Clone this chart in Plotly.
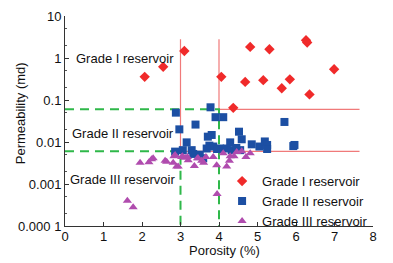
import math
import plotly.graph_objects as go

# Grade I reservoir (red diamonds)
g1_x = [2.07, 2.55, 3.10, 4.06, 4.81, 5.31, 6.26, 6.29, 6.99, 4.68, 5.15, 5.63, 5.84, 6.35, 4.37]
g1_y = [0.356, 0.615, 1.47, 0.356, 1.84, 1.62, 2.65, 2.33, 0.54, 0.27, 0.297, 0.19, 0.31, 0.136, 0.065]

# Grade II reservoir (blue squares)
g2_x = [3.78, 2.88, 3.91, 4.11, 3.39, 2.97, 4.52, 3.81, 3.71, 4.59, 3.16, 4.29, 3.75, 3.85,
        4.85, 5.05, 5.19, 5.25, 5.25, 2.86, 3.06, 3.29, 3.33, 3.68, 4.03, 4.20, 4.33, 4.55,
        3.50, 3.59, 5.70, 5.96, 5.93, 3.95, 4.45]
g2_y = [0.067, 0.050, 0.039, 0.039, 0.026, 0.020, 0.0176, 0.0147, 0.0134, 0.0116, 0.0098, 0.0098,
        0.0082, 0.0078, 0.0088, 0.0078, 0.0103, 0.0085, 0.0068, 0.0059, 0.0064, 0.0064, 0.0052,
        0.0070, 0.0070, 0.0070, 0.0064, 0.0064, 0.0050, 0.0041, 0.030, 0.0085, 0.0080, 0.0068, 0.0072]

# Grade III reservoir (purple triangles)
g3_x = [1.95, 2.18, 2.25, 2.29, 2.60, 2.81, 2.83, 2.90, 3.05, 3.18, 3.36, 3.46, 1.62, 1.77,
        3.03, 3.20, 3.44, 3.60, 3.66, 3.85, 3.95, 4.11, 4.20, 4.27, 4.29, 4.39, 4.46, 4.59,
        4.70, 4.81, 2.86, 2.94, 3.12, 3.55, 3.94, 2.64]
g3_y = [0.0032, 0.0033, 0.0039, 0.0041, 0.0036, 0.0032, 0.0046, 0.0026, 0.0046, 0.0044, 0.0027,
        0.0041, 0.00040, 0.00028, 0.0044, 0.0037, 0.0041, 0.0032, 0.0044, 0.0044, 0.00058, 0.0054,
        0.0026, 0.0036, 0.0046, 0.0046, 0.0058, 0.0060, 0.0044, 0.0054, 0.0049, 0.0026, 0.0042,
        0.0036, 0.0028, 0.0034]

# Boundary lines
red_a_x = [3, 3, 7.65]
red_a_y = [2.8, 0.006, 0.006]
red_b_x = [4, 4, 7.65]
red_b_y = [2.8, 0.06, 0.06]
green_a_x = [0, 4, 4]
green_a_y = [0.06, 0.06, 0.0001]
green_b_x = [0, 3, 3]
green_b_y = [0.006, 0.006, 0.0001]

y_tickvals = [10, 1, 0.1, 0.01, 0.001, 0.0001]
y_ticktext = ["10", "1", "0.1", "0.01", "0.001", "0.000 1"]
x_tickvals = [0, 1, 2, 3, 4, 5, 6, 7, 8]

region_labels = ["Grade I reservoir", "Grade II reservoir", "Grade III reservoir"]
region_label_x = [0.23, 0.13, 0.08]
region_label_y = [1.0, 0.0161, 0.0013]

FONT = "Liberation Sans, Arial, sans-serif"
FS = 13

fig = go.Figure()

for lx, ly in [(red_a_x, red_a_y), (red_b_x, red_b_y)]:
    fig.add_trace(go.Scatter(x=lx, y=ly, mode="lines", showlegend=False, hoverinfo="skip",
                             line=dict(color="#f07a7a", width=1.2)))
for lx, ly in [(green_a_x, green_a_y), (green_b_x, green_b_y)]:
    fig.add_trace(go.Scatter(x=lx, y=ly, mode="lines", showlegend=False, hoverinfo="skip",
                             line=dict(color="#2fb84a", width=2, dash="9px,6px")))

fig.add_trace(go.Scatter(x=g1_x, y=g1_y, mode="markers", name="Grade I reservoir",
                         marker=dict(symbol="diamond", size=8, color="#f02a2a")))
fig.add_trace(go.Scatter(x=g2_x, y=g2_y, mode="markers", name="Grade II reservoir",
                         marker=dict(symbol="square", size=8, color="#1c4fa3")))
fig.add_trace(go.Scatter(x=g3_x, y=g3_y, mode="markers", name="Grade III reservoir",
                         marker=dict(symbol="triangle-up", size=8, color="#b04cae")))

for text, xx, yy in zip(region_labels, region_label_x, region_label_y):
    fig.add_annotation(x=xx, y=math.log10(yy), xref="x", yref="y", text=text,
                       showarrow=False, xanchor="left", yanchor="middle",
                       font=dict(family=FONT, size=FS, color="#111"))

# axis titles
fig.add_annotation(x=-0.146, y=0.537, xref="paper", yref="paper", text="Permeability (md)",
                   textangle=-90, showarrow=False, xanchor="center", yanchor="middle",
                   font=dict(family=FONT, size=FS, color="#111"))
fig.add_annotation(x=0.518, y=-0.118, xref="paper", yref="paper", text="Porosity (%)",
                   showarrow=False, xanchor="center", yanchor="middle",
                   font=dict(family=FONT, size=FS, color="#111"))

# the page body adds an 8px offset, so margins compensate
fig.update_layout(
    width=393, height=263,
    margin=dict(l=57, r=28, t=8, b=45),
    paper_bgcolor="white", plot_bgcolor="white",
    font=dict(family=FONT, size=FS, color="#111"),
    legend=dict(x=0.51, y=0.285, xanchor="left", yanchor="top", bgcolor="rgba(0,0,0,0)",
                font=dict(family=FONT, size=FS, color="#111"), itemwidth=30),
    showlegend=True,
)
fig.update_xaxes(range=[0, 8], tickvals=x_tickvals, showline=True, linecolor="#333", linewidth=1,
                 ticks="inside", ticklen=4, tickcolor="#333", showgrid=False, zeroline=False,
                 automargin=False, tickfont=dict(size=FS), ticklabelstandoff=-2)
fig.update_yaxes(type="log", range=[-4, 1], tickvals=y_tickvals, ticktext=y_ticktext,
                 showline=True, linecolor="#333", linewidth=1,
                 ticks="inside", ticklen=4, tickcolor="#333", showgrid=False, zeroline=False,
                 minor=dict(ticks="inside", ticklen=2, tickcolor="#555", showgrid=False),
                 automargin=False, tickfont=dict(size=FS))

fig.write_html("out.html")
